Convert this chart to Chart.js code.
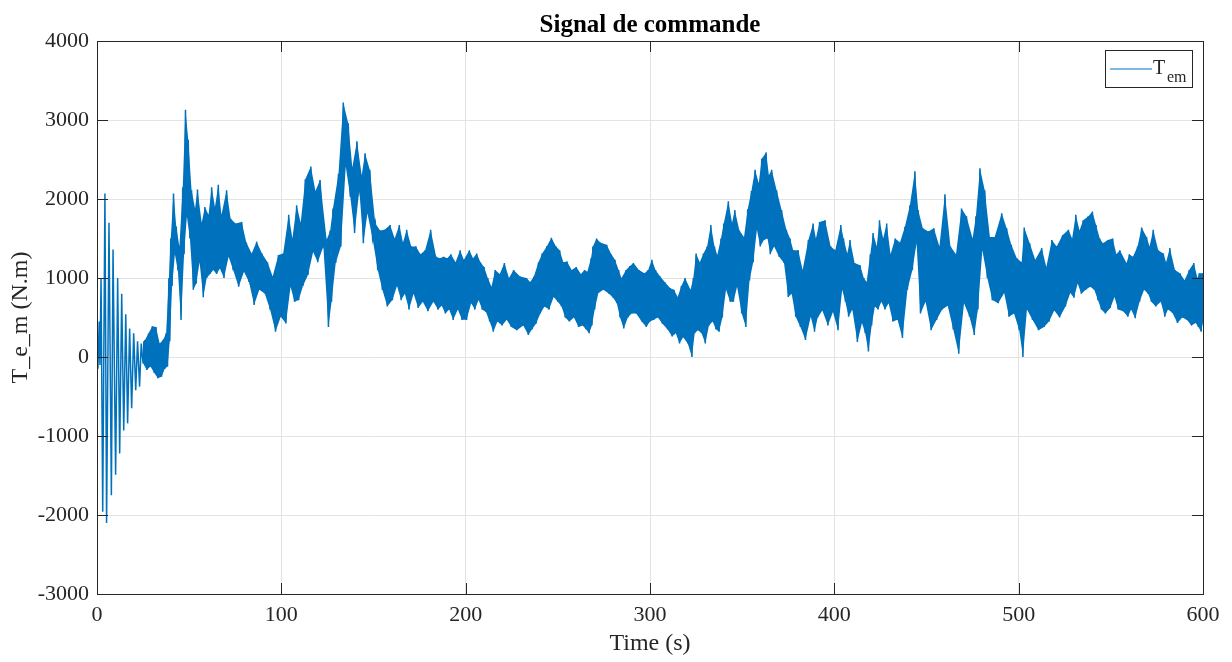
<!DOCTYPE html>
<html>
<head>
<meta charset="utf-8">
<script src="https://cdn.jsdelivr.net/npm/chart.js@4.4.0/dist/chart.umd.min.js"></script>
<style>
  html, body { margin: 0; padding: 0; background: #fff; }
  #wrap { width: 1232px; height: 662px; }
</style>
</head>
<body>
<div id="wrap"><canvas id="cmd" width="1232" height="662"></canvas></div>
<script>
// start-up oscillation, read point by point (s, N.m)
const oscTime  = [0, 0.5, 1.2, 1.6, 2.2, 3.1, 4.3, 5.2, 6.5, 7.8, 8.7, 10.1, 11.2, 12.3, 13.4, 14.5, 15.6, 16.6, 17.7, 18.8, 19.9, 21, 22, 23.1];
const oscValue = [50, -150, 450, -100, 1000, -1960, 2070, -2100, 1700, -1750, 1360, -1490, 1000, -1220, 800, -930, 540, -840, 360, -650, 300, -420, 200, -375];

// rest of the signal: upper / lower envelope
const envTime = [24, 26, 28, 30, 32, 34, 36, 37.5, 39, 40, 41.5, 43, 44.7, 46.5, 48, 49.5, 51.3, 53.2, 54.5, 56.8,
  58.5, 60.5, 62.2, 64, 65.8, 67.5, 70.3, 72.5, 75.2, 78.5, 81, 83.9, 86.6, 89.5, 92.5, 95.3, 98.4, 101, 104, 106,
  108.3, 110.5, 113, 116, 118.5, 121, 124.6, 126.5, 128, 131, 133.6, 136.3, 138.5, 141, 143.6, 145.4, 148, 151, 153.6, 156,
  159, 161.5, 164, 166, 168, 170.5, 173, 175.5, 178, 181, 184, 186, 188, 190, 192, 194.5, 197, 199, 202, 204,
  206, 208, 210, 212, 214, 216, 218.5, 221, 223.5, 226, 229.5, 233, 235, 237, 239.5, 241.5, 244, 246.5, 249, 251,
  253, 255, 257.5, 260, 262.5, 264.5, 266, 268, 269, 271, 273, 276.5, 279, 281, 283, 284.5, 287, 289, 291, 294,
  297, 299, 301, 303, 305.5, 308, 311, 313, 315, 317, 319, 322, 323.5, 325, 327, 329, 331, 333, 335, 336.5,
  338.5, 340, 342.5, 344.5, 346, 348.5, 351, 353, 355, 357, 359, 360.6, 363, 364.5, 366, 368.7, 371.4, 374, 376, 377.7,
  380.4, 382.8, 385.9, 388.5, 390, 392, 395, 398, 400.5, 403.5, 405, 407, 408.5, 411, 414, 416, 417.5, 419.5, 421, 423,
  424.5, 426.5, 428.4, 430.5, 433, 435.6, 438.3, 441, 443.7, 445.5, 448, 451, 454, 457, 460, 463, 466, 469, 471.7, 475,
  476.8, 479, 481.6, 484.4, 487, 490.8, 493.5, 496, 499, 501.6, 503, 506, 509, 512.5, 515, 518, 520.6, 523.8, 527, 529,
  531, 533, 535, 537.7, 540, 542, 544, 545.7, 548.4, 551, 553, 554.9, 558.5, 560, 562, 564.5, 566.7, 569.4, 571, 573,
  575.7, 578.5, 580, 582, 584.8, 587.5, 590, 592.5, 595, 597, 598, 600];
const envUpper = [170, 215, 300, 390, 380, 170, 220, 300, 1000, 1500, 2070, 1650, 1400, 2150, 3130, 2750, 2110, 1880, 2120, 1700,
  1900, 1800, 2150, 1900, 2180, 1800, 2110, 1750, 1690, 1710, 1450, 1310, 1460, 1310, 1200, 1020, 1290, 1310, 1800, 1500,
  1920, 1700, 2250, 2410, 2100, 2240, 1480, 1600, 1880, 2320, 3220, 2960, 2400, 2730, 2300, 2580, 2370, 1690, 1600, 1610,
  1670, 1500, 1670, 1450, 1610, 1400, 1400, 1300, 1350, 1610, 1270, 1250, 1270, 1250, 1300, 1200, 1350, 1230, 1350, 1250,
  1310, 1200, 1140, 1000, 890, 1100, 1050, 1190, 1000, 1100, 1020, 1000, 950, 1020, 1200, 1310, 1400, 1510, 1400, 1350,
  1200, 1210, 1100, 1140, 1050, 1100, 1080, 1250, 1400, 1500, 1450, 1420, 1300, 1230, 1100, 1000, 1100, 1150, 1190, 1100,
  1060, 1100, 1230, 1100, 1020, 950, 870, 850, 760, 900, 1000, 850, 1000, 1310, 1200, 1310, 1400, 1670, 1400, 1290,
  1500, 1690, 1970, 1700, 1860, 1600, 1520, 1870, 2100, 2370, 2200, 2510, 2590, 2300, 2370, 2110, 1860, 1610, 1500, 1350,
  1350, 1100, 1480, 1690, 1500, 1710, 1730, 1400, 1350, 1670, 1500, 1310, 1480, 1190, 1160, 1000, 950, 1300, 1570, 1400,
  1730, 1500, 1690, 1300, 1500, 1450, 1650, 1920, 2350, 1860, 1630, 1590, 1630, 1400, 2060, 1400, 1300, 1880, 1780, 1500,
  1780, 2390, 2110, 1520, 1520, 1820, 1630, 1420, 1250, 1200, 1640, 1440, 1230, 1380, 1140, 1480, 1400, 1540, 1610, 1500,
  1800, 1600, 1730, 1780, 1840, 1670, 1500, 1440, 1480, 1500, 1300, 1350, 1190, 1300, 1270, 1400, 1640, 1520, 1400, 1610,
  1350, 1310, 1200, 1380, 1100, 1060, 970, 1100, 1190, 1000, 1060, 1060];
const envLower = [-80, -165, -120, -200, -270, -250, -150, -120, 200, 900, 1300, 1100, 470, 1300, 1780, 1500, 850, 930, 1200, 755,
  1000, 1050, 1100, 1050, 1120, 1000, 1270, 1100, 890, 1080, 950, 660, 850, 805, 600, 320, 510, 425, 890, 700,
  720, 900, 1040, 1330, 1200, 1400, 380, 700, 1190, 1400, 2410, 2030, 1570, 2110, 1440, 1820, 1500, 1100, 850, 640,
  720, 900, 720, 800, 600, 800, 620, 700, 580, 700, 600, 650, 550, 600, 470, 600, 470, 470, 680, 600,
  720, 600, 570, 450, 320, 450, 400, 470, 380, 340, 400, 280, 350, 425, 550, 640, 600, 760, 700, 640,
  500, 450, 500, 380, 400, 350, 300, 400, 600, 810, 850, 800, 750, 680, 500, 360, 500, 550, 550, 450,
  380, 450, 470, 500, 420, 350, 260, 300, 170, 250, 170, 0, 300, 340, 300, 170, 400, 450, 350, 320,
  500, 850, 700, 700, 890, 550, 380, 970, 1200, 1610, 1400, 1480, 1500, 1300, 1400, 1270, 1190, 760, 800, 510,
  380, 215, 510, 320, 500, 590, 400, 570, 340, 850, 700, 510, 600, 190, 430, 300, 70, 400, 640, 600,
  700, 600, 680, 450, 470, 240, 850, 1100, 1440, 550, 700, 340, 470, 600, 650, 350, 40, 680, 510, 280,
  600, 1350, 1000, 720, 680, 810, 510, 550, 340, 0, 600, 470, 340, 380, 450, 590, 500, 640, 810, 750,
  930, 800, 850, 890, 850, 720, 600, 550, 620, 760, 600, 580, 510, 600, 490, 700, 850, 800, 700, 640,
  700, 510, 600, 560, 430, 500, 470, 400, 430, 380, 320, 500];

const xTicks = [0, 100, 200, 300, 400, 500, 600];
const yTicks = [-3000, -2000, -1000, 0, 1000, 2000, 3000, 4000];

const lineColor = '#0072BD';
const inkColor = '#262626';
const serif = "'Liberation Serif', 'Times New Roman', serif";

// the drawn trace: start-up points, then upper/lower alternating
let points = oscTime.map((t, i) => ({ x: t, y: oscValue[i] }));
let upperPts = [];
let lowerPts = [];
envTime.forEach((t, i) => {
    let next = i < envTime.length - 1 ? envTime[i + 1] : t + 1;
    let mid = (t + next) / 2;
    points.push({ x: t, y: envUpper[i] });
    points.push({ x: mid, y: envLower[i] });
    upperPts.push({ x: t, y: envUpper[i] });
    lowerPts.push({ x: mid, y: envLower[i] });
});

// box, inward ticks and the legend, matlab style
const frame = {
    id: 'frame',
    afterDatasetsDraw(chart) {
        let { ctx, chartArea: a, scales } = chart;
        ctx.save();
        ctx.strokeStyle = inkColor;
        ctx.lineWidth = 1;
        ctx.beginPath();
        xTicks.forEach(v => {
            let px = Math.round(scales.x.getPixelForValue(v)) + 0.5;
            ctx.moveTo(px, a.top); ctx.lineTo(px, a.top + 11);
            ctx.moveTo(px, a.bottom); ctx.lineTo(px, a.bottom - 11);
        });
        yTicks.forEach(v => {
            let py = Math.round(scales.y.getPixelForValue(v)) + 0.5;
            ctx.moveTo(a.left, py); ctx.lineTo(a.left + 11, py);
            ctx.moveTo(a.right, py); ctx.lineTo(a.right - 11, py);
        });
        ctx.stroke();
        ctx.strokeRect(Math.round(a.left) + 0.5, Math.round(a.top) + 0.5,
            Math.round(a.right - a.left), Math.round(a.bottom - a.top));

        // legend
        let lx = 1105, ly = 50, lw = 87, lh = 37;
        ctx.fillStyle = '#fff';
        ctx.fillRect(lx, ly, lw, lh);
        ctx.strokeRect(lx + 0.5, ly + 0.5, lw, lh);
        ctx.strokeStyle = lineColor;
        ctx.lineWidth = 1.2;
        ctx.beginPath();
        ctx.moveTo(lx + 5, ly + 19); ctx.lineTo(lx + 47, ly + 19);
        ctx.stroke();
        ctx.fillStyle = inkColor;
        ctx.textBaseline = 'alphabetic';
        ctx.font = '20px ' + serif;
        ctx.fillText('T', lx + 48, ly + 24);
        ctx.font = '16px ' + serif;
        ctx.fillText('em', lx + 62, ly + 32);
        ctx.restore();
    }
};

new Chart(document.getElementById('cmd'), {
    type: 'line',
    data: {
        datasets: [{
            label: 'Tem',
            data: points,
            borderColor: lineColor,
            borderWidth: 1.5,
            pointRadius: 0,
            tension: 0,
            fill: false
        }, {
            label: 'upper',
            data: upperPts,
            borderWidth: 0,
            borderColor: 'rgba(0,0,0,0)',
            backgroundColor: lineColor,
            pointRadius: 0,
            tension: 0,
            fill: '+1'
        }, {
            label: 'lower',
            data: lowerPts,
            borderWidth: 0,
            borderColor: 'rgba(0,0,0,0)',
            pointRadius: 0,
            tension: 0,
            fill: false
        }]
    },
    options: {
        responsive: false,
        animation: false,
        events: [],
        layout: { padding: { left: 0, right: 29, top: 0, bottom: 0 } },
        plugins: {
            legend: { display: false },
            tooltip: { enabled: false },
            title: {
                display: true,
                text: 'Signal de commande',
                fullSize: false,
                color: '#000',
                font: { family: serif, size: 25, weight: 'bold' },
                padding: { top: 11, bottom: 0 }
            }
        },
        scales: {
            x: {
                type: 'linear',
                min: 0, max: 600,
                afterBuildTicks: s => { s.ticks = xTicks.map(v => ({ value: v })); },
                afterFit: s => { s.height = 68; },
                grid: { color: '#e3e3e3', drawTicks: false },
                border: { display: false },
                ticks: { color: inkColor, padding: 8, font: { family: serif, size: 22 }, callback: v => String(v) },
                title: { display: true, text: 'Time (s)', color: inkColor, padding: 4, font: { family: serif, size: 24 } }
            },
            y: {
                min: -3000, max: 4000,
                afterBuildTicks: s => { s.ticks = yTicks.map(v => ({ value: v })); },
                afterFit: s => { s.width = 97; },
                grid: { color: '#e3e3e3', drawTicks: false },
                border: { display: false },
                ticks: { color: inkColor, padding: 8, font: { family: serif, size: 22 }, callback: v => String(v) },
                title: { display: true, text: 'T_e_m (N.m)', color: inkColor, padding: 6, font: { family: serif, size: 24 } }
            }
        }
    },
    plugins: [frame]
});
</script>
</body>
</html>
